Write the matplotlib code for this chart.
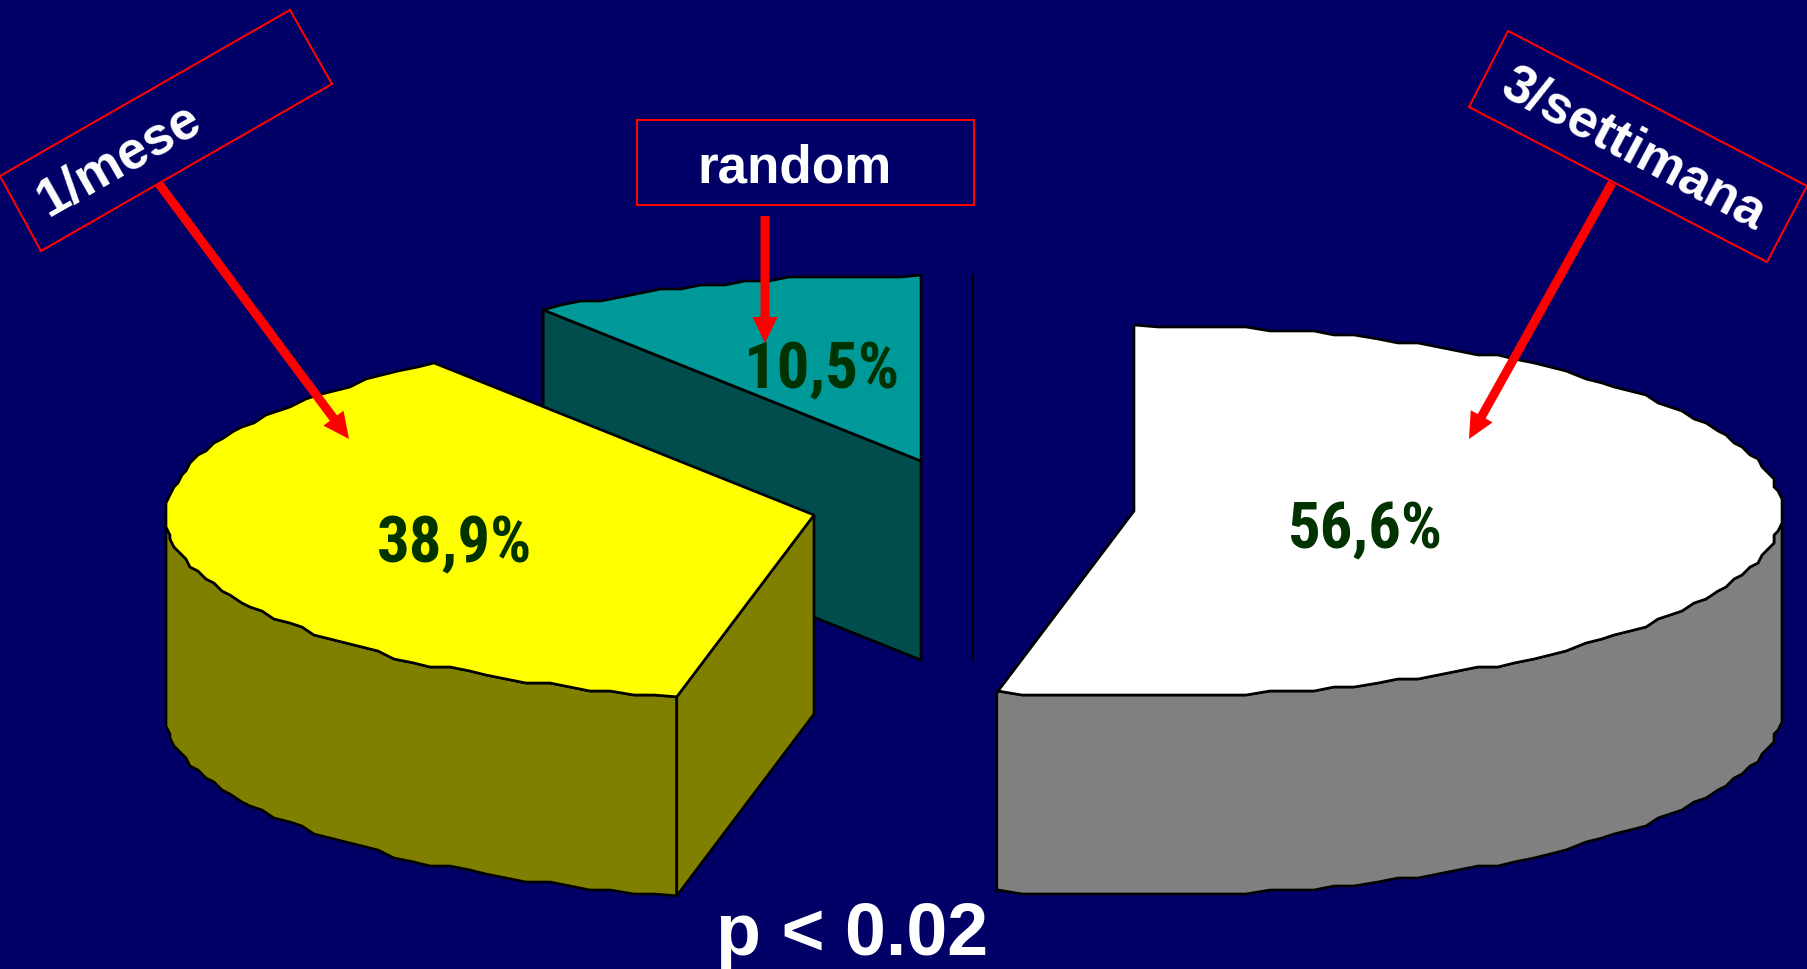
import numpy as np
import matplotlib
matplotlib.use("Agg")
import matplotlib.pyplot as plt
from matplotlib.patches import Polygon, FancyArrow

# ---------------Dati---------------------------
gruppi = ["3/settimana", "1/mese", "random"]
percentuali = [56.6, 38.9, 10.5]
p_testo = "p < 0.02"

# ---------------Stile---------------------------
SFONDO = "#000066"
colori_top = ["#FFFFFF", "#FFFF00", "#009999"]
colori_lato = ["#808080", "#808000", "#004D4D"]
centri = [(1134, 511), (814, 515), (921, 461)]
pos_testi = [(1366, 531), (455, 545), (822, 371)]
RX, RY = 648, 186
DEPTH = 199
GRIGLIA = 4.0
LW = 1.9

fonte_val = {"fontsize": 46.5, "fontweight": "bold", "color": "#003300",
             "family": ["Roboto Condensed", "Open Sans Condensed", "Liberation Sans"]}
fonte_box = {"fontsize": 38.2, "fontweight": "bold", "color": "white", "family": "Liberation Sans"}


def arco(cx, cy, t0, t1):
    # bordo dell'ellisse a tratti corti, angoli in gradi da ore 12 in senso orario
    t = np.radians(np.arange(t0, t1, 2.0))
    x = np.round(RX * np.sin(t) / GRIGLIA) * GRIGLIA
    y = np.round(-RY * np.cos(t) / GRIGLIA) * GRIGLIA
    t_fine = np.radians(t1)
    pts = np.column_stack([cx + x, cy + y])
    fine = [cx + RX * np.sin(t_fine), cy - RY * np.cos(t_fine)]
    inizio = [cx + RX * np.sin(np.radians(t0)), cy - RY * np.cos(np.radians(t0))]
    return np.vstack([inizio, pts[1:], fine])


fig = plt.figure(figsize=(18.08, 9.69), dpi=100, facecolor=SFONDO)
ax = fig.add_axes([0, 0, 1, 1])
ax.set_xlim(0, 1808)
ax.set_ylim(969, 0)
ax.axis("off")

# angoli delle fette
totale = sum(percentuali)
angoli = np.cumsum([0] + [v / totale * 360 for v in percentuali])

# si disegna dal fondo: random, poi 1/mese, poi 3/settimana
for i in [2, 1, 0]:
    a0, a1 = angoli[i], angoli[i + 1]
    cx, cy = centri[i]
    bordo = arco(cx, cy, a0, a1)

    # parete esterna visibile (parte bassa dell'ellisse)
    vis0, vis1 = max(a0, 90), min(a1, 270)
    if vis1 > vis0:
        parete = arco(cx, cy, vis0, vis1)
        giu = parete + [0, DEPTH]
        ax.add_patch(Polygon(np.vstack([parete, giu[::-1]]), closed=True, fc=colori_lato[i],
                             ec="black", lw=LW, joinstyle="round"))

    # parete piana del taglio
    if i in (1, 2):
        p = bordo[0]
        ax.add_patch(Polygon([(cx, cy), p, p + [0, DEPTH], (cx, cy + DEPTH)], closed=True,
                             fc=colori_lato[i], ec="black", lw=LW))
    if i == 2:
        ax.plot([972, 972], [273, 661], color="black", lw=LW, solid_capstyle="butt")

    ax.add_patch(Polygon(np.vstack([[cx, cy], bordo]), closed=True, fc=colori_top[i],
                         ec="black", lw=LW, joinstyle="round"))

# etichette percentuali
for v, (x, y) in zip(percentuali, pos_testi):
    ax.text(x, y, f"{v:.1f}".replace(".", ",") + "%", ha="center", va="center", **fonte_val)

# frecce
frecce = [((1612, 183), (1469, 439)), ((159, 184), (349, 439)), ((765, 216), (765, 343))]
for (x0, y0), (x1, y1) in frecce:
    ax.add_patch(FancyArrow(x0, y0, x1 - x0, y1 - y0, width=9, head_width=25, head_length=26,
                            length_includes_head=True, fc="#FF0000", ec="none", zorder=5))

# riquadri
riquadri = [[(1508, 31), (1807, 186), (1767, 262), (1469, 107)],
            [(290, 10), (332, 84), (41, 251), (0, 176)],
            [(637, 120), (974, 120), (974, 205), (637, 205)]]
for box in riquadri:
    ax.add_patch(Polygon(box, closed=True, fc="none", ec="#FF0000", lw=1.5, zorder=6))

ax.text(1634, 150, gruppi[0], rotation=-28, rotation_mode="anchor", ha="center", va="center",
        zorder=7, **fonte_box)
ax.text(119, 160, gruppi[1], rotation=29.7, rotation_mode="anchor", ha="center", va="center",
        zorder=7, **fonte_box)
ax.text(795, 182, gruppi[2], ha="center", va="baseline", zorder=7, **fonte_box)

ax.text(852, 955, p_testo, ha="center", va="baseline", color="white", fontsize=53,
        fontweight="bold", family="Liberation Sans")

fig.savefig("out.png", dpi=100, facecolor=SFONDO)
